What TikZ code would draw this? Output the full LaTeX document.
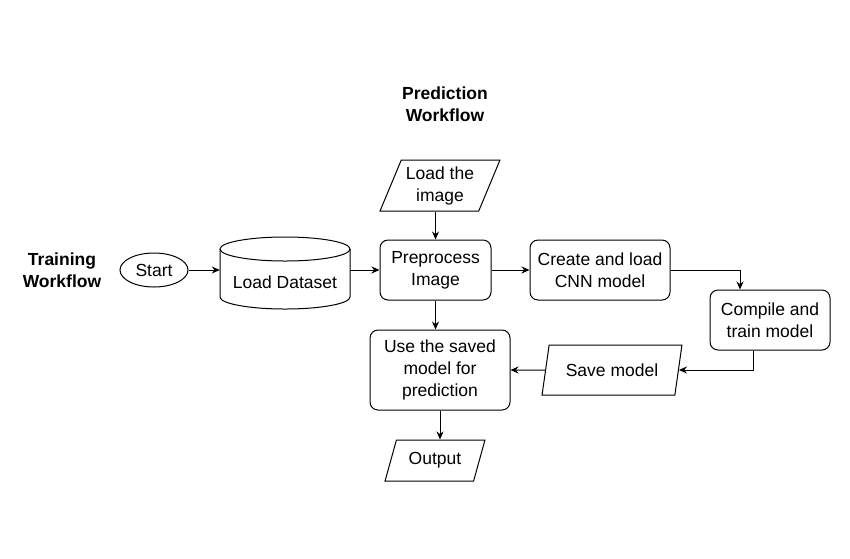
\documentclass[tikz,border=0pt]{standalone}
\usepackage{fontspec}
\setmainfont{Liberation Sans}
\usetikzlibrary{shapes.geometric,arrows.meta}
\newcommand\diagfont{\fontsize{17.5}{22}\selectfont}
\begin{document}
\begin{tikzpicture}[x=1pt,y=-1pt,
  every node/.style={font=\diagfont, align=center, inner sep=0pt},
  box/.style={draw, line width=1pt, rounded corners=8pt},
  para/.style={draw, line width=1pt, trapezium, trapezium stretches=true},
  arr/.style={line width=1pt, -{Stealth[length=8pt,width=7pt]}},
  lbl/.style={font=\diagfont\bfseries}]
\useasboundingbox (0,0) rectangle (850,558);

\node[lbl] (tw) at (62,270) {Training\\Workflow};
\node[lbl] (pw) at (445,104.5) {Prediction\\Workflow};

\node[draw, line width=1pt, ellipse, minimum width=68pt, minimum height=34pt] (start) at (154,270) {Start};

% cylinder
\node[minimum width=130pt, minimum height=72pt] (ds) at (285,273) {};
\draw[line width=1pt] (220,249) -- (220,297) arc[start angle=180, end angle=360, x radius=65, y radius=-12] -- (350,249)
  arc[start angle=0, end angle=180, x radius=65, y radius=-12] -- cycle;
\draw[line width=1pt] (220,249) arc[start angle=180, end angle=360, x radius=65, y radius=-12];
\node (dstext) at (285,282) {Load Dataset};

\node[box, minimum width=111pt, minimum height=60pt] (pre) at (435.5,270) {Preprocess\\Image};
\node[para, trapezium left angle=64, trapezium right angle=116, minimum width=120pt, minimum height=51pt] (load) at (440,185.5) {Load the\\image};
\node[box, minimum width=140pt, minimum height=60pt] (cnn) at (600,270) {Create and load\\CNN model};
\node[box, minimum width=120pt, minimum height=60pt] (comp) at (770,320) {Compile and\\train model};
\node[para, trapezium left angle=68, trapezium right angle=112, minimum width=140pt, minimum height=50pt] (save) at (612,370) {Save model};
\node[box, minimum width=140pt, minimum height=80pt] (use) at (440,370) {Use the saved\\model for\\prediction};
\node[para, trapezium left angle=64, trapezium right angle=116, minimum width=100pt, minimum height=41pt] (out) at (435,460.5) {Output};

\draw[arr] (start.east) -- (start.east -| ds.west);
\draw[arr] (pre.west -| ds.east) -- (pre.west);
\draw[arr] (load.south -| pre.north) -- (pre.north);
\draw[arr] (pre.east) -- (cnn.west);
\draw[arr] (cnn.east) -| ([xshift=-30pt]comp.north);
\draw[arr] ([xshift=-17pt]comp.south) |- (save.east);
\draw[arr] (save.west) -- (use.east);
\draw[arr] (pre.south) -- (pre.south |- use.north);
\draw[arr] (use.south) -- (use.south |- out.north);
\end{tikzpicture}
\end{document}
